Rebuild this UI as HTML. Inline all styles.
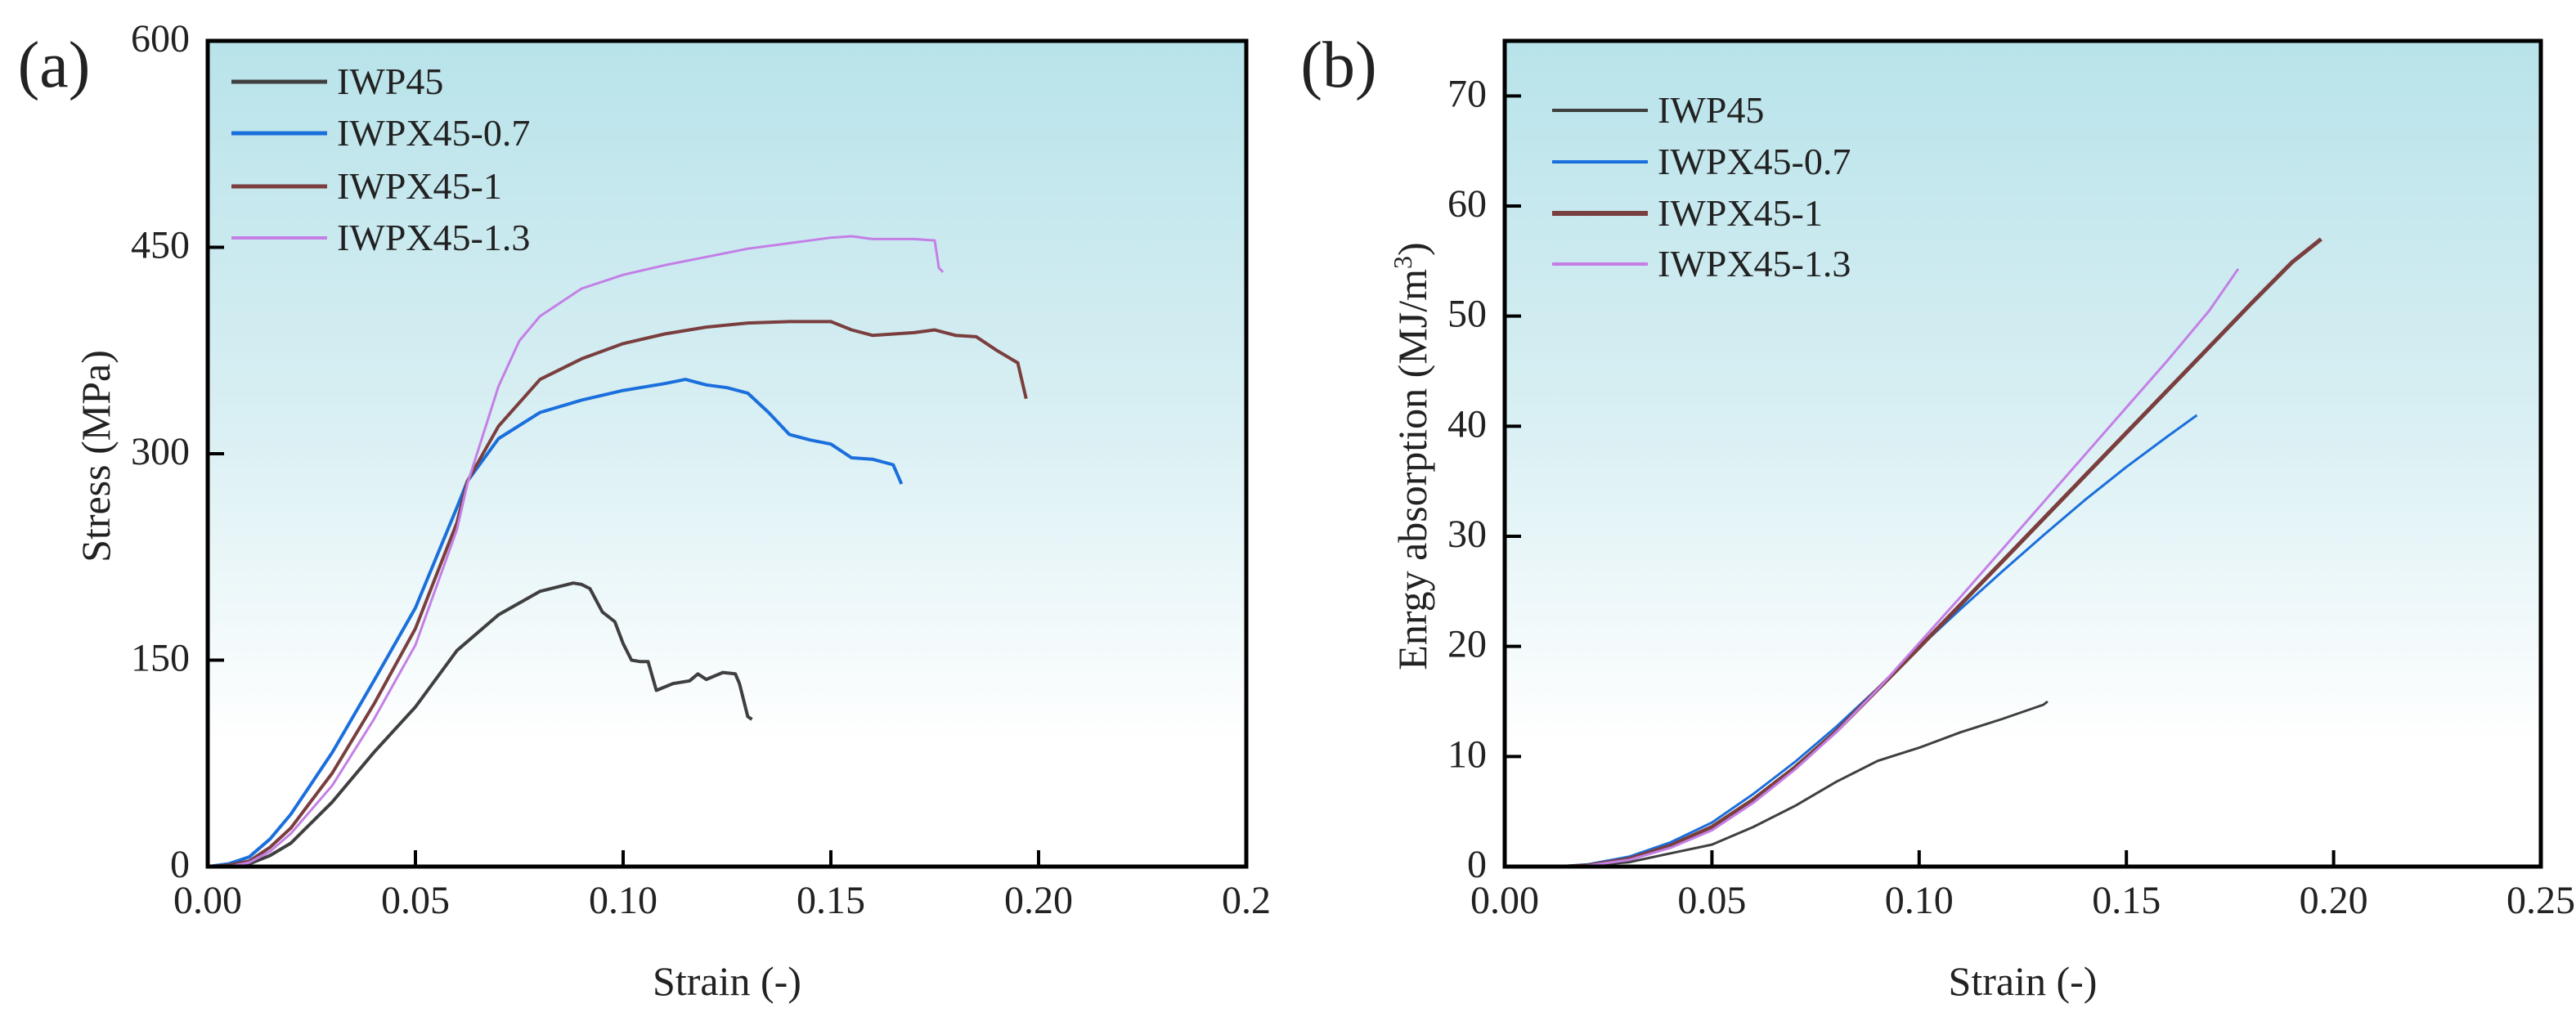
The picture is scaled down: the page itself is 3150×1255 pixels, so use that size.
<!DOCTYPE html>
<html><head><meta charset="utf-8"><style>
html,body{margin:0;padding:0;background:#fff;width:3150px;height:1255px;overflow:hidden}
svg{display:block;font-family:"Liberation Serif",serif}
</style></head><body>
<svg id="fig" width="3150" height="1255" viewBox="0 0 3150 1255" xmlns="http://www.w3.org/2000/svg">
<defs>
<linearGradient id="bg" x1="0" y1="0" x2="0" y2="1">
<stop offset="0" stop-color="#b8e3ea"/><stop offset="0.45" stop-color="#d8eff3"/><stop offset="0.85" stop-color="#ffffff"/><stop offset="1" stop-color="#ffffff"/>
</linearGradient>
</defs>
</svg>
<script>
const seriesNames=["IWP45","IWPX45-0.7","IWPX45-1","IWPX45-1.3"];
const seriesColors=["#3f3f3f","#1a6fdc","#7a3e3e","#c47fe6"];
const xTicks=[0,0.05,0.10,0.15,0.20,0.25];
const xTickLabelsA=["0.00","0.05","0.10","0.15","0.20","0.2"];
const xTickLabelsB=["0.00","0.05","0.10","0.15","0.20","0.25"];
const yTicksA=[0,150,300,450,600];
const yTicksB=[0,10,20,30,40,50,60,70];
// Stress-strain (a)
const aX0=[0,0.005,0.01,0.015,0.02,0.03,0.04,0.05,0.06,0.07,0.08,0.088,0.09,0.092,0.095,0.098,0.1,0.102,0.104,0.106,0.108,0.112,0.116,0.118,0.12,0.124,0.127,0.128,0.13,0.131];
const aY0=[0,0,2,8,17,47,83,116,157,183,200,206,205,202,185,178,162,150,149,149,128,133,135,140,136,141,140,133,109,107];
const aX1=[0,0.005,0.01,0.015,0.02,0.03,0.04,0.05,0.06,0.0625,0.07,0.08,0.09,0.1,0.11,0.115,0.12,0.125,0.13,0.135,0.14,0.145,0.15,0.155,0.16,0.165,0.167];
const aY1=[0,2,7,20,38,83,135,188,261,280,311,330,339,346,351,354,350,348,344,330,314,310,307,297,296,292,278];
const aX2=[0,0.005,0.01,0.015,0.02,0.03,0.04,0.05,0.06,0.0625,0.07,0.08,0.09,0.1,0.11,0.12,0.13,0.14,0.15,0.155,0.16,0.17,0.175,0.18,0.185,0.19,0.195,0.197];
const aY2=[0,1,4,14,28,68,118,173,250,280,320,354,369,380,387,392,395,396,396,390,386,388,390,386,385,375,366,340];
const aX3=[0,0.005,0.01,0.015,0.02,0.03,0.04,0.05,0.06,0.0625,0.07,0.075,0.08,0.09,0.1,0.11,0.12,0.13,0.14,0.15,0.155,0.16,0.17,0.175,0.176,0.177];
const aY3=[0,0,3,11,24,59,107,161,245,278,349,382,400,420,430,437,443,449,453,457,458,456,456,455,435,432];
// Energy absorption (b)
const bX0=[0.012,0.02,0.03,0.04,0.05,0.06,0.07,0.08,0.09,0.1,0.11,0.12,0.13,0.131];
const bY0=[0,0.1,0.4,1.2,2,3.6,5.5,7.7,9.6,10.8,12.2,13.4,14.7,15];
const bX1=[0.012,0.02,0.03,0.04,0.05,0.06,0.07,0.08,0.09,0.1,0.11,0.12,0.13,0.14,0.15,0.16,0.167];
const bY1=[0,0.2,0.9,2.2,4,6.6,9.5,12.7,16.2,19.9,23.4,26.8,30.1,33.3,36.3,39.1,41];
const bX2=[0.015,0.02,0.03,0.04,0.05,0.06,0.07,0.08,0.09,0.1,0.11,0.12,0.13,0.14,0.15,0.16,0.17,0.18,0.19,0.197];
const bY2=[0,0.1,0.7,1.9,3.6,6.1,9,12.3,16.1,19.9,23.8,27.7,31.6,35.5,39.4,43.3,47.2,51.1,54.9,57];
const bX3=[0.015,0.02,0.03,0.04,0.05,0.06,0.07,0.08,0.09,0.1,0.11,0.12,0.13,0.14,0.15,0.16,0.17,0.177];
const bY3=[0,0.1,0.6,1.7,3.3,5.8,8.8,12.2,16.1,20.3,24.5,28.8,33.1,37.4,41.7,46,50.5,54.3];

const NS="http://www.w3.org/2000/svg";
const svg=document.getElementById("fig");
function mk(tag,attrs,parent){const e=document.createElementNS(NS,tag);for(const k in attrs)e.setAttribute(k,attrs[k]);(parent||svg).appendChild(e);return e;}

function panel(p){
  const g=mk("g",{});
  
  
  const sx=v=>p.L+(v-0)/(0.25)*(p.R-p.L);
  const sy=v=>p.B-(v/p.ymax)*(p.B-p.T);
  const bg=mk("rect",{x:p.L,y:p.T,width:p.R-p.L,height:p.B-p.T,fill:"url(#bg)"},g);
  
  
  p.series.forEach((s,i)=>{
    const d=s[0].map((x,j)=>(j?"L":"M")+sx(x).toFixed(1)+","+sy(s[1][j]).toFixed(1)).join(" ");
    const path=mk("path",{d:d,fill:"none",stroke:seriesColors[i],"stroke-width":p.sw[i],"stroke-linejoin":"round"},g);
    
    
  });
  const fr=mk("rect",{x:p.L,y:p.T,width:p.R-p.L,height:p.B-p.T,fill:"none",stroke:"#000","stroke-width":5},g);
  
  
  xTicks.forEach((v,i)=>{
    const x=sx(v);
    mk("line",{x1:x,y1:p.B,x2:x,y2:p.B-20,stroke:"#000","stroke-width":4},g);
    const t=mk("text",{x:x,y:p.B+57,"font-size":48,"text-anchor":"middle",fill:"#222"},g);
    t.textContent=p.xl[i];
    
    
  });
  p.yt.forEach(v=>{
    const y=sy(v);
    mk("line",{x1:p.L,y1:y,x2:p.L+20,y2:y,stroke:"#000","stroke-width":4},g);
    const t=mk("text",{x:p.L-22,y:y+13,"font-size":48,"text-anchor":"end",fill:"#222"},g);
    t.textContent=String(v);
    
    
  });
  const xt=mk("text",{x:(p.L+p.R)/2,y:1217,"font-size":50,"text-anchor":"middle",fill:"#222"},g);
  xt.textContent="Strain (-)";
  
  
  const yt=mk("text",{x:0,y:0,"font-size":50,"text-anchor":"middle",fill:"#222",transform:"translate("+p.ytx+",558) rotate(-90)"},g);
  yt.innerHTML=p.ytitle;
  
  
  const lab=mk("text",{x:p.labx,y:106,"font-size":80,"text-anchor":"middle",fill:"#222"},g);
  lab.textContent=p.label;
  
  
  seriesNames.forEach((n,i)=>{
    const y=p.legY[i];
    const le=mk("g",{},g);
    
    
    mk("line",{x1:p.legX,y1:y,x2:p.legX+117,y2:y,stroke:seriesColors[i],"stroke-width":p.sw[i]+1},le);
    const t=mk("text",{x:p.legX+129,y:y+15,"font-size":46,fill:"#222"},le);
    t.textContent=n;
  });
}
panel({id:"stress",L:254,R:1524,T:50,B:1060,ymax:600,yt:yTicksA,xl:xTickLabelsA,
  series:[[aX0,aY0],[aX1,aY1],[aX2,aY2],[aX3,aY3]],sw:[4,4,4,3],
  ytitle:"Stress (MPa)",ytx:134,label:"(a)",labx:66,legX:283,legY:[100,163,228,291]});
panel({id:"energy",L:1840,R:3107,T:50,B:1060,ymax:75,yt:yTicksB,xl:xTickLabelsB,
  series:[[bX0,bY0],[bX1,bY1],[bX2,bY2],[bX3,bY3]],sw:[3,3,5,3],
  ytitle:'Enrgy absorption (MJ/m<tspan dy="-18" font-size="32">3</tspan><tspan dy="18">)</tspan>',ytx:1744,label:"(b)",labx:1637,legX:1898,legY:[135,198,261,323]});
</script>
</body></html>
